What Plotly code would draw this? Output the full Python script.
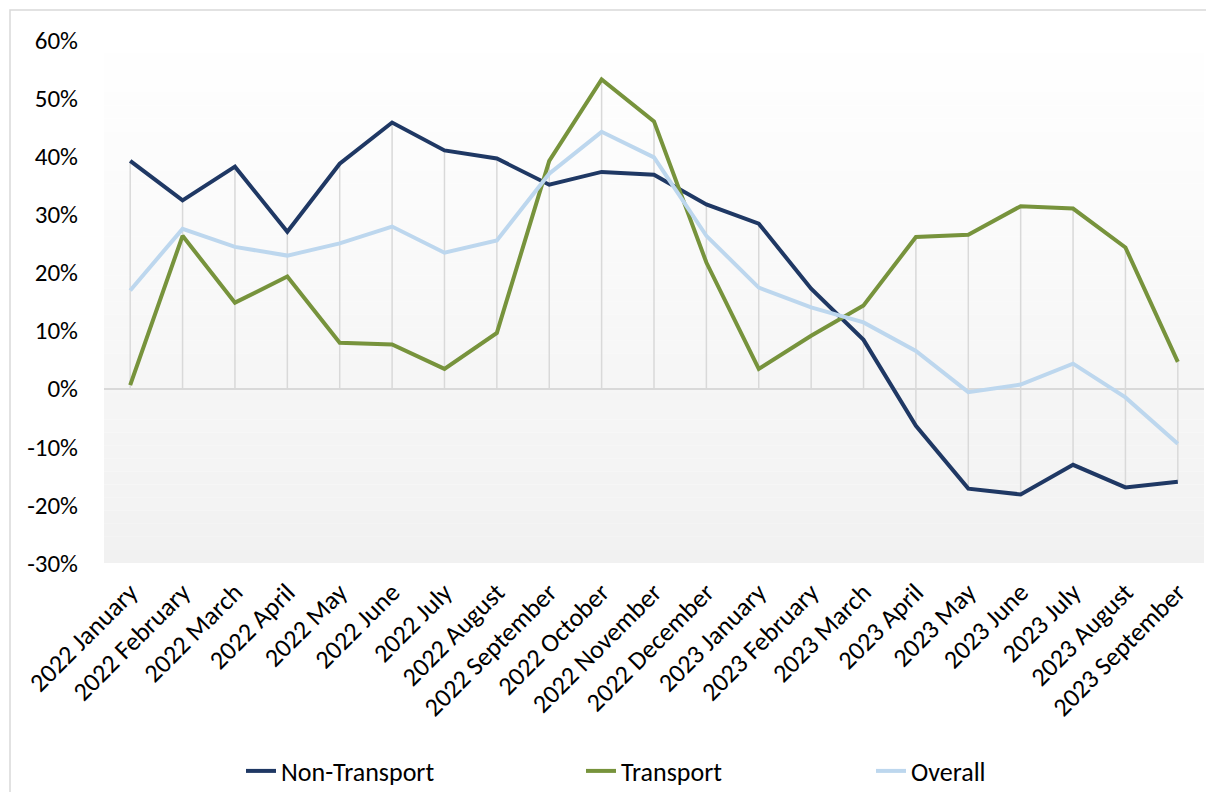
import plotly.graph_objects as go

categories = [
    "2022 January", "2022 February", "2022 March", "2022 April", "2022 May",
    "2022 June", "2022 July", "2022 August", "2022 September", "2022 October",
    "2022 November", "2022 December", "2023 January", "2023 February",
    "2023 March", "2023 April", "2023 May", "2023 June", "2023 July",
    "2023 August", "2023 September",
]
non_transport = [39.2, 32.4, 38.2, 27.0, 38.7, 45.8, 41.0, 39.6, 35.1, 37.3, 36.8,
                 31.7, 28.4, 17.2, 8.4, -6.4, -17.2, -18.2, -13.1, -17.0, -16.0]
transport = [0.6, 26.3, 14.8, 19.3, 7.9, 7.6, 3.4, 9.6, 39.2, 53.2, 46.0,
             21.7, 3.4, 9.1, 14.3, 26.1, 26.5, 31.4, 31.0, 24.3, 4.6]
overall = [16.9, 27.5, 24.4, 22.9, 25.0, 27.9, 23.4, 25.5, 37.0, 44.2, 39.8,
           26.3, 17.4, 14.0, 11.4, 6.5, -0.6, 0.7, 4.3, -1.5, -9.5]
y_ticks = [-30, -20, -10, 0, 10, 20, 30, 40, 50, 60]
y_ticklabels = [f"{v}%" for v in y_ticks]

series = [
    ("Non-Transport", non_transport, "#1f3864", "legend"),
    ("Transport", transport, "#77933c", "legend2"),
    ("Overall", overall, "#bdd7ee", "legend3"),
]

FONT = "Calibri, Carlito, Lato, sans-serif"
W, H = 1206, 792
ML, MR, MT, MB = 104, 2, 40, 229
PW, PH = W - ML - MR, H - MT - MB

fig = go.Figure()

# drop lines (from highest to lowest value / axis at each category)
dx, dy = [], []
for i, c in enumerate(categories):
    vals = [non_transport[i], transport[i], overall[i], 0]
    dx += [c, c, None]
    dy += [max(vals), min(vals), None]
fig.add_trace(go.Scatter(x=dx, y=dy, mode="lines", line=dict(color="#d9d9d9", width=1.5),
                         showlegend=False, hoverinfo="skip"))

for name, vals, color, lg in series:
    fig.add_trace(go.Scatter(x=categories, y=vals, name=name, mode="lines",
                             line=dict(color=color, width=4), legend=lg))

# gradient plot background
shapes = []
n = 40
for k in range(n):
    t = (k + 0.5) / n
    v = round(255 - 14 * t)
    shapes.append(dict(type="rect", xref="x domain", yref="y domain",
                       x0=0, x1=1, y0=1 - (k + 1) / n, y1=1 - k / n,
                       fillcolor=f"rgb({v},{v},{v})", line=dict(width=0), layer="below"))
# chart border
shapes.append(dict(type="rect", xref="paper", yref="paper",
                   x0=(10 - ML) / PW, x1=(W + 10 - ML) / PW,
                   y0=(MT + PH - (H + 10)) / PH, y1=(MT + PH - 10) / PH,
                   line=dict(color="#d9d9d9", width=1.5), fillcolor="rgba(0,0,0,0)", layer="below"))

def lx(px):
    return (px - ML) / PW

ly = (MT + PH - 771) / PH
legend_common = dict(orientation="h", yanchor="middle", y=ly, xanchor="left",
                     font=dict(family=FONT, size=26, color="#000000"),
                     bgcolor="rgba(0,0,0,0)", itemwidth=30)

fig.update_layout(
    width=W, height=H,
    margin=dict(l=ML, r=MR, t=MT, b=MB, autoexpand=False),
    paper_bgcolor="white", plot_bgcolor="white",
    font=dict(family=FONT, size=26, color="#000000"),
    shapes=shapes,
    showlegend=True,
    legend=dict(legend_common, x=lx(241)),
    legend2=dict(legend_common, x=lx(581)),
    legend3=dict(legend_common, x=lx(871)),
    xaxis=dict(type="category", range=[-0.5, len(categories) - 0.5], tickangle=-45,
               showgrid=False, showline=False, zeroline=False, ticks="", automargin=False,
               tickfont=dict(family=FONT, size=26, color="#000000"), ticklabelstandoff=8),
    yaxis=dict(range=[-30, 60], tickmode="array", tickvals=y_ticks, ticktext=y_ticklabels,
               showgrid=False, zeroline=True, zerolinecolor="#d9d9d9", zerolinewidth=1.5,
               showline=False, ticks="", automargin=False,
               tickfont=dict(family=FONT, size=25, color="#000000"), ticklabelstandoff=25),
)

fig.write_html("out.html", config={"displayModeBar": False},
               post_script="document.body.style.margin='0';document.body.style.overflow='hidden';")
